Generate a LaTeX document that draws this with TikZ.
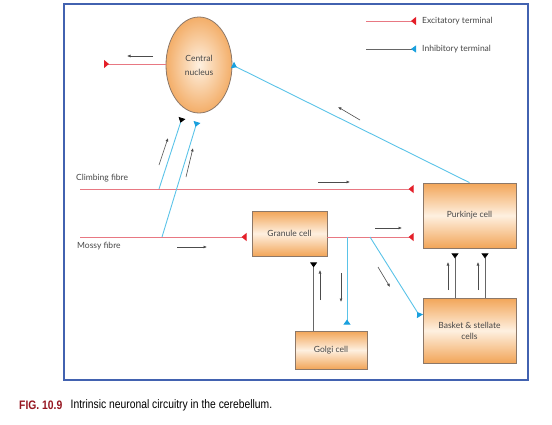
\documentclass[tikz,border=0pt]{standalone}
\usepackage{fontspec}
\usepackage{tikz}
\usetikzlibrary{arrows.meta, positioning, shapes.geometric}
\setmainfont{Lato}
\newfontfamily\capfont[FakeStretch=0.84]{Liberation Sans}
\definecolor{framebl}{RGB}{66,98,176}
\definecolor{exline}{RGB}{232,120,130}
\definecolor{extip}{RGB}{228,30,40}
\definecolor{inline}{RGB}{90,195,232}
\definecolor{intip}{RGB}{25,160,222}
\definecolor{cellor}{RGB}{242,165,88}
\definecolor{celllt}{RGB}{254,240,224}
\definecolor{cellbd}{RGB}{140,120,105}
\definecolor{labgray}{RGB}{70,70,70}
\definecolor{figred}{RGB}{150,22,32}

\begin{document}
\begin{tikzpicture}[
  x=1pt, y=-1pt,
  cell/.style={rectangle, draw=cellbd, line width=0.8pt, top color=cellor, bottom color=cellor,
               middle color=celllt, font=\fontsize{8.5}{11}\selectfont, text=labgray, align=center, inner sep=1pt},
  nucleus/.style={ellipse, draw=cellbd, line width=0.8pt, inner color=celllt, outer color=cellor!90,
                  minimum width=66pt, minimum height=96pt, inner sep=0pt,
                  font=\fontsize{8.5}{14}\selectfont, text=labgray, align=center},
  lbl/.style={font=\fontsize{8.5}{11}\selectfont, text=labgray, inner sep=1pt},
  exc/.style={exline, line width=1pt, -{Triangle[reversed, color=extip, length=5pt, width=8pt]}},
  inh/.style={inline, line width=0.9pt, -{Triangle[reversed, color=intip, length=5pt, width=7pt]}},
  inhgray/.style={black!60, line width=0.8pt, -{Triangle[reversed, color=intip, length=5pt, width=7pt]}},
  inhk/.style={inline, line width=0.9pt, -{Triangle[reversed, color=black, length=5pt, width=7pt]}},
  gline/.style={black!60, line width=0.8pt, -{Triangle[reversed, color=black, length=5pt, width=7pt]}},
  dir/.style={black!70, line width=0.6pt, -{Latex[length=3.5pt, width=3pt]}}
]
\useasboundingbox (0,0) rectangle (552,424);
\draw[framebl, line width=2pt] (64,4) rectangle (528,380);

% cells
\node[nucleus] (nuc)  at (199,65)    {Central\\nucleus};
\node[cell, minimum width=75pt, minimum height=45pt] (gran)  at (289.5,233.5) {Granule cell};
\node[cell, minimum width=93pt, minimum height=65pt] (purk)  at (469.5,215.5) {Purkinje cell};
\node[cell, minimum width=72pt, minimum height=38pt] (golgi) at (331,350)     {Golgi cell};
\node[cell, minimum width=93pt, minimum height=65pt] (bask)  at (469.5,330.5) {Basket \& stellate\\cells};

% legend
\node[lbl, anchor=west] (lgexc) at (421,21) {Excitatory terminal};
\node[lbl, anchor=west] (lginh) at (421,49) {Inhibitory terminal};
\coordinate (lgA) at (366,21);
\coordinate (lgB) at (366,49);
\draw[exc, shorten >=5pt] (lgA) -- (lgexc.west);
\draw[inhgray, shorten >=5pt] (lgB) -- (lginh.west);

% fibres
\node[lbl, anchor=west] (cflbl) at (75,178) {Climbing fibre};
\node[lbl, anchor=west] (mflbl) at (76,246) {Mossy fibre};
\coordinate (cf)  at (80,189);
\coordinate (mf)  at (80,237);
\coordinate (cfb) at (159,189);
\coordinate (mfb) at (162,237);
\coordinate (nucA) at (182,118);
\coordinate (nucB) at (197,122);
\coordinate (gb)  at (347,237);
\coordinate (bb)  at (370,237);
\coordinate (out) at (104,64);

\draw[exc, shorten >=9pt] (cf) -- (cf -| purk.west);
\draw[exc, shorten >=5pt] (mf) -- (mf -| gran.west);
\draw[exc, shorten >=9pt] (gran.east |- mf) -- (mf -| purk.west);
\draw[exc] (nuc.west |- out) -- (out);

\draw[inhk] (cfb) -- (nucA);
\draw[inh]  (mfb) -- (nucB);
\draw[inh]  (purk.north) -- (nuc.east);
\draw[inh, shorten >=6pt] (gb) -- (gb |- golgi.north);
\draw[inh, shorten >=5pt] (bb) -- ([yshift=10pt]bask.west);

\draw[gline, shorten >=6pt] ([xshift=19pt]golgi.north west) -- ([xshift=19pt]golgi.north west |- gran.south);
\draw[gline, shorten >=5pt] ([xshift=-14.5pt]bask.north) -- ([xshift=-14.5pt]bask.north |- purk.south);
\draw[gline, shorten >=5pt] ([xshift=15.5pt]bask.north) -- ([xshift=15.5pt]bask.north |- purk.south);

% direction of flow
\foreach \n/\a/\b/\c/\d in {d1/153/56/127/56, d2/360/120/338/107, d3/159/165/168/138,
    d4/186/177/193/148, d5/318/182/350/182, d6/177/247/207/247, d7/375/228/402/228,
    d8/320/300/320/270, d9/341/273/341/302, d10/378/267/390/287,
    d11/448/290/448/262, d12/478/290/478/262} {
  \coordinate (\n s) at (\a,\b);
  \coordinate (\n e) at (\c,\d);
  \draw[dir] (\n s) -- (\n e);
}

% caption
\node[anchor=west, inner sep=0pt, font=\capfont\fontsize{12.3}{14}\selectfont\bfseries, text=figred] (fig) at (19,405) {FIG. 10.9};
\node[anchor=west, inner sep=0pt, font=\capfont\fontsize{12.3}{14}\selectfont, right=8pt of fig] (cap) {Intrinsic neuronal circuitry in the cerebellum.};
\end{tikzpicture}
\end{document}
